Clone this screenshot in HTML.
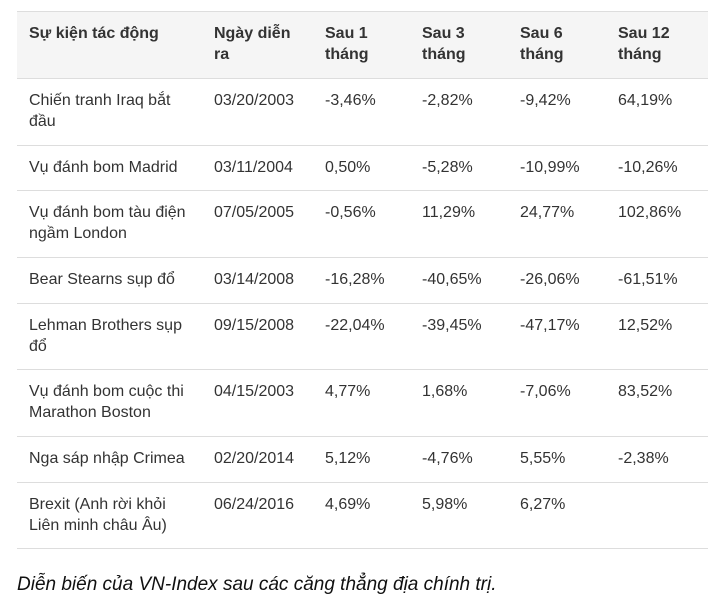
<!DOCTYPE html>
<html><head><meta charset="utf-8"><style>
body{margin:0;width:717px;height:610px;background:#fff;position:relative;font-family:"Liberation Sans",Arial,sans-serif;color:#333;overflow:hidden}
.hd{position:absolute;left:17px;top:12px;width:691px;height:66px;background:#f5f5f5}
.ln{position:absolute;left:17px;width:691px;height:1px;background:#ddd}
.t{position:absolute;font-size:16px;line-height:21px;white-space:nowrap}
.b{font-weight:bold}
.cap{position:absolute;left:17px;top:573px;font-size:19px;line-height:24px;font-style:italic;color:#111;white-space:nowrap}
</style></head><body>
<div class="hd"></div>
<div class="ln" style="top:11px"></div>
<div class="ln" style="top:78px"></div>
<div class="ln" style="top:145px"></div>
<div class="ln" style="top:190px"></div>
<div class="ln" style="top:257px"></div>
<div class="ln" style="top:303px"></div>
<div class="ln" style="top:369px"></div>
<div class="ln" style="top:436px"></div>
<div class="ln" style="top:482px"></div>
<div class="ln" style="top:548px"></div>

<div class="t b" style="left:29px;top:23px">Sự kiện tác động</div>
<div class="t b" style="left:214px;top:23px">Ngày diễn<br>ra</div>
<div class="t b" style="left:325px;top:23px">Sau 1<br>tháng</div>
<div class="t b" style="left:422px;top:23px">Sau 3<br>tháng</div>
<div class="t b" style="left:520px;top:23px">Sau 6<br>tháng</div>
<div class="t b" style="left:618px;top:23px">Sau 12<br>tháng</div>

<div class="t" style="left:29px;top:90px">Chiến tranh Iraq bắt<br>đầu</div>
<div class="t" style="left:214px;top:90px">03/20/2003</div>
<div class="t" style="left:325px;top:90px">-3,46%</div>
<div class="t" style="left:422px;top:90px">-2,82%</div>
<div class="t" style="left:520px;top:90px">-9,42%</div>
<div class="t" style="left:618px;top:90px">64,19%</div>

<div class="t" style="left:29px;top:157px">Vụ đánh bom Madrid</div>
<div class="t" style="left:214px;top:157px">03/11/2004</div>
<div class="t" style="left:325px;top:157px">0,50%</div>
<div class="t" style="left:422px;top:157px">-5,28%</div>
<div class="t" style="left:520px;top:157px">-10,99%</div>
<div class="t" style="left:618px;top:157px">-10,26%</div>

<div class="t" style="left:29px;top:202px">Vụ đánh bom tàu điện<br>ngầm London</div>
<div class="t" style="left:214px;top:202px">07/05/2005</div>
<div class="t" style="left:325px;top:202px">-0,56%</div>
<div class="t" style="left:422px;top:202px">11,29%</div>
<div class="t" style="left:520px;top:202px">24,77%</div>
<div class="t" style="left:618px;top:202px">102,86%</div>

<div class="t" style="left:29px;top:269px">Bear Stearns sụp đổ</div>
<div class="t" style="left:214px;top:269px">03/14/2008</div>
<div class="t" style="left:325px;top:269px">-16,28%</div>
<div class="t" style="left:422px;top:269px">-40,65%</div>
<div class="t" style="left:520px;top:269px">-26,06%</div>
<div class="t" style="left:618px;top:269px">-61,51%</div>

<div class="t" style="left:29px;top:315px">Lehman Brothers sụp<br>đổ</div>
<div class="t" style="left:214px;top:315px">09/15/2008</div>
<div class="t" style="left:325px;top:315px">-22,04%</div>
<div class="t" style="left:422px;top:315px">-39,45%</div>
<div class="t" style="left:520px;top:315px">-47,17%</div>
<div class="t" style="left:618px;top:315px">12,52%</div>

<div class="t" style="left:29px;top:381px">Vụ đánh bom cuộc thi<br>Marathon Boston</div>
<div class="t" style="left:214px;top:381px">04/15/2003</div>
<div class="t" style="left:325px;top:381px">4,77%</div>
<div class="t" style="left:422px;top:381px">1,68%</div>
<div class="t" style="left:520px;top:381px">-7,06%</div>
<div class="t" style="left:618px;top:381px">83,52%</div>

<div class="t" style="left:29px;top:448px">Nga sáp nhập Crimea</div>
<div class="t" style="left:214px;top:448px">02/20/2014</div>
<div class="t" style="left:325px;top:448px">5,12%</div>
<div class="t" style="left:422px;top:448px">-4,76%</div>
<div class="t" style="left:520px;top:448px">5,55%</div>
<div class="t" style="left:618px;top:448px">-2,38%</div>

<div class="t" style="left:29px;top:494px">Brexit (Anh rời khỏi<br>Liên minh châu Âu)</div>
<div class="t" style="left:214px;top:494px">06/24/2016</div>
<div class="t" style="left:325px;top:494px">4,69%</div>
<div class="t" style="left:422px;top:494px">5,98%</div>
<div class="t" style="left:520px;top:494px">6,27%</div>

<div class="cap">Diễn biến của VN-Index sau các căng thẳng địa chính trị.</div>
</body></html>
